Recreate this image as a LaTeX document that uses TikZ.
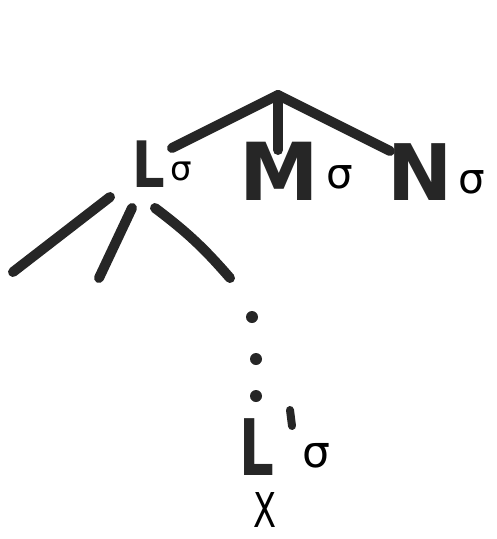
\documentclass[tikz,border=0pt]{standalone}
\usepackage{fontspec}
\setsansfont{DejaVu Sans}
\usepackage{tikz}
\usetikzlibrary{positioning}

\tikzset{
  stroke/.style={line width=10pt, line cap=round, draw=black!85},
  letter/.style={inner sep=0pt, anchor=base, text=black!85, font=\sffamily\bfseries\fontsize{#1}{#1}\selectfont},
  sig/.style={inner sep=0pt, anchor=base, font=\sffamily\fontsize{#1}{#1}\selectfont}
}

\begin{document}
\begin{tikzpicture}[x=1pt, y=-1pt]
    \useasboundingbox (0,0) rectangle (497,539);

    % Top of the tree
    \coordinate (root) at (278,95);
    \coordinate (tipL) at (172,148);
    \coordinate (tipM) at (278,150);
    \coordinate (tipN) at (390,151);
    \draw[stroke] (root) -- (tipL);
    \draw[stroke] (root) -- (tipM);
    \draw[stroke] (root) -- (tipN);

    % Daughters
    \node[letter=64] (L) at (149,187) {\scalebox{0.8}[1]{L}};
    \node[sig=34] (sL) at (181,180) {σ};
    \node[letter=80] (M) at (279,200) {M};
    \node[sig=42] (sM) at (340,188) {σ};
    \node[letter=78] (N) at (420,200) {N};
    \node[sig=42] (sN) at (472,193) {σ};

    % Branches below L
    \coordinate (b1s) at (110,197);
    \coordinate (b1e) at (13,272);
    \coordinate (b2s) at (132,208);
    \coordinate (b2e) at (99,278);
    \coordinate (b3s) at (155,208);
    \coordinate (b3e) at (230,278);
    \draw[stroke] (b1s) -- (b1e);
    \draw[stroke] (b2s) -- (b2e);
    \draw[stroke] (b3s) to[bend left=6] (b3e);

    % Dots down to L'
    \fill[black!85] (252,317) circle (6pt);
    \fill[black!85] (256,359) circle (6pt);
    \fill[black!85] (256,396) circle (6pt);

    % L' with its sigma and X
    \node[letter=78] (Lp) at (257,475) {\scalebox{0.7}[1]{L}};
    \coordinate (pr1) at (290,410);
    \coordinate (pr2) at (292,426);
    \draw[stroke, line width=8pt] (pr1) -- (pr2);
    \node[sig=44] (sLp) at (316,467) {σ};
    \node[inner sep=0pt, anchor=base, font=\sffamily\fontsize{48}{48}\selectfont] (X) at (265,527) {\scalebox{0.7}[1]{X}};
\end{tikzpicture}
\end{document}
